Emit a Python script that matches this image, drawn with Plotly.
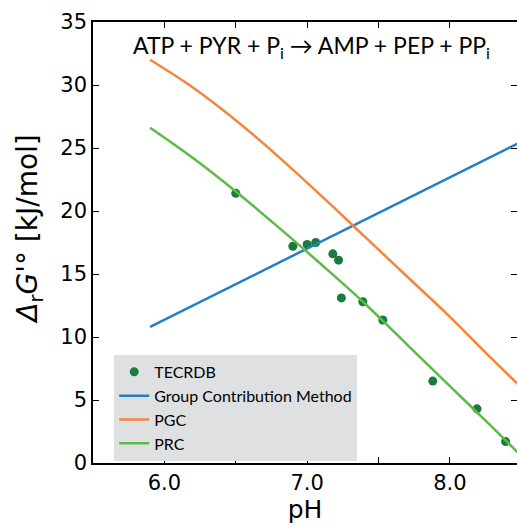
import plotly.graph_objects as go

# TECRDB measurements
tecrdb_ph = [6.50, 6.90, 7.00, 7.06, 7.18, 7.22, 7.24, 7.39, 7.53, 7.88, 8.19, 8.39]
tecrdb_dg = [21.4, 17.2, 17.35, 17.5, 16.6, 16.1, 13.1, 12.8, 11.35, 6.5, 4.3, 1.7]

# group contribution method (straight line)
gcm_ph = [5.9, 8.5]
gcm_dg = [10.8, 25.5]

# PGC curve
pgc_ph = [5.9, 6.2, 6.5, 6.8, 7.1, 7.4, 7.7, 8.0, 8.3, 8.5]
pgc_dg = [32.0, 29.8, 27.2, 24.3, 21.2, 18.0, 14.8, 11.6, 8.2, 6.0]

# PRC curve
prc_ph = [5.9, 6.2, 6.5, 6.8, 7.1, 7.4, 7.7, 8.0, 8.3, 8.5]
prc_dg = [26.6, 24.2, 21.55, 18.7, 15.75, 12.7, 9.4, 6.1, 2.8, 0.55]

xtick_vals = [6.0, 6.5, 7.0, 7.5, 8.0]
xtick_text = ["6.0", "", "7.0", "", "8.0"]

fig = go.Figure()
fig.add_trace(go.Scatter(name="TECRDB", x=tecrdb_ph, y=tecrdb_dg, mode="markers",
                         marker=dict(color="#1b7a3c", size=9)))
fig.add_trace(go.Scatter(name="Group Contribution Method", x=gcm_ph, y=gcm_dg, mode="lines",
                         line=dict(color="#2180c6", width=2.5)))
fig.add_trace(go.Scatter(name="PGC", x=pgc_ph, y=pgc_dg, mode="lines", line_shape="spline",
                         line=dict(color="#f5843c", width=2.5)))
fig.add_trace(go.Scatter(name="PRC", x=prc_ph, y=prc_dg, mode="lines", line_shape="spline",
                         line=dict(color="#5cbb45", width=2.5)))

fig.add_annotation(text="ATP + PYR + P<sub>i</sub> → AMP + PEP + PP<sub>i</sub>",
                   xref="paper", yref="paper", x=0.515, y=0.985, showarrow=False,
                   font=dict(family="Lato", size=23, color="black"))
# y axis title as annotation so it can sit a bit above centre like the original
fig.add_annotation(text="<i>Δ</i><sub>r</sub><i>G</i>'° [kJ/mol]", textangle=-90,
                   xref="paper", yref="paper", x=-0.15, y=0.53, xanchor="center", yanchor="middle",
                   showarrow=False, font=dict(size=28, color="black"))

fig.update_xaxes(range=[5.5, 8.47], tickvals=xtick_vals, ticktext=xtick_text,
                 ticks="inside", ticklen=6, tickcolor="black", mirror="ticks",
                 showline=True, linecolor="black", linewidth=1.5, showgrid=False, zeroline=False,
                 title=dict(text="pH", font=dict(size=25), standoff=5),
                 tickfont=dict(size=21), automargin=False)
fig.update_yaxes(range=[0, 35], dtick=5, ticks="inside", ticklen=6, tickcolor="black",
                 mirror="ticks", showline=True, linecolor="black", linewidth=1.5,
                 showgrid=False, zeroline=False,
                 tickfont=dict(size=21), automargin=False)
fig.update_layout(width=517, height=527, margin=dict(l=93, r=0, t=22, b=64),
                  plot_bgcolor="white", paper_bgcolor="white",
                  font=dict(family="DejaVu Sans", color="black"),
                  legend=dict(x=0.05, y=0.245, xanchor="left", yanchor="top",
                              bgcolor="#dfe0e2", font=dict(family="Lato", size=16),
                              tracegroupgap=0, itemwidth=30))
fig.write_html("out.html", config={"displayModeBar": False},
               post_script="document.body.style.margin='0';")
